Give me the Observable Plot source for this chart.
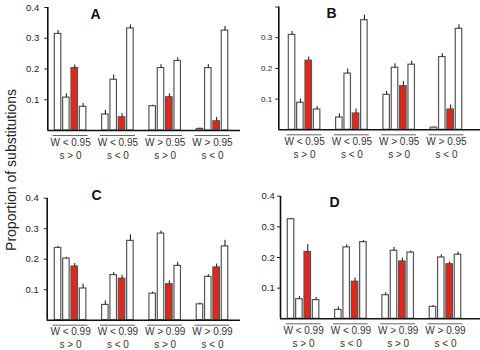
<!DOCTYPE html>
<html><head><meta charset="utf-8">
<script src="https://cdn.jsdelivr.net/npm/d3@7"></script>
<script src="https://cdn.jsdelivr.net/npm/@observablehq/plot@0.6"></script>
<style>
body{margin:0;background:#fff;}
#wrap{position:relative;width:480px;height:350px;overflow:hidden;font-family:"Liberation Sans",Arial,sans-serif;}
.panel{position:absolute;}
#ytitle{position:absolute;left:11px;top:170px;transform:translate(-50%,-50%) rotate(-90deg);white-space:nowrap;font-size:14px;color:#222;}
</style></head>
<body><div id="wrap"><div id="ytitle">Proportion of substitutions</div></div>
<script>
// ---- data ----
const groups = [0, 1, 2, 3];
const bars = [0, 1, 2, 3];
const wLabels95 = ["W < 0.95", "W < 0.95", "W > 0.95", "W > 0.95"];
const wLabels99 = ["W < 0.99", "W < 0.99", "W > 0.99", "W > 0.99"];
const sLabels = ["s > 0", "s < 0", "s > 0", "s < 0"];
const yTicks = [0.1, 0.2, 0.3, 0.4];

const valuesA = [[0.314, 0.107, 0.203, 0.077], [0.052, 0.165, 0.043, 0.332], [0.079, 0.203, 0.108, 0.226], [0.005, 0.203, 0.030, 0.325]];
const errorsA = [[0.011, 0.012, 0.010, 0.011], [0.014, 0.016, 0.012, 0.011], [0.003, 0.011, 0.011, 0.010], [0.003, 0.011, 0.012, 0.013]];
const valuesB = [[0.309, 0.088, 0.225, 0.066], [0.040, 0.183, 0.053, 0.357], [0.114, 0.202, 0.142, 0.212], [0.007, 0.237, 0.066, 0.329]];
const errorsB = [[0.011, 0.012, 0.012, 0.010], [0.012, 0.015, 0.015, 0.016], [0.011, 0.013, 0.015, 0.011], [0.002, 0.011, 0.015, 0.013]];
const valuesC = [[0.237, 0.202, 0.176, 0.104], [0.050, 0.148, 0.136, 0.260], [0.087, 0.284, 0.118, 0.178], [0.052, 0.142, 0.173, 0.242]];
const errorsC = [[0.005, 0.004, 0.010, 0.014], [0.013, 0.008, 0.011, 0.020], [0.005, 0.008, 0.011, 0.012], [0.005, 0.007, 0.011, 0.020]];
const valuesD = [[0.325, 0.064, 0.218, 0.061], [0.029, 0.233, 0.121, 0.250], [0.077, 0.222, 0.187, 0.216], [0.039, 0.200, 0.178, 0.209]];
const errorsD = [[0.002, 0.009, 0.024, 0.009], [0.010, 0.009, 0.012, 0.005], [0.008, 0.011, 0.011, 0.005], [0.004, 0.009, 0.007, 0.009]];

// ---- drawing ----
const RED = "#e3261b";
const GSTEP = 47.3;            // px per group
const BS = 8.35 / GSTEP;       // bar step (group units)
const BW = 6.5 / GSTEP;        // bar width (group units)
const W = 240, H = 175;

function panel(opts) {
  const {letter, values, errors, wLabels, left, top, mLeft, mTop, mBottom, xStart, tickFs, tickPad, hideTop, letterX, letterY} = opts;
  const rows = [];
  groups.forEach(g => bars.forEach(b => rows.push({g, b, v: values[g][b], e: errors[g][b]})));
  const lo = -(xStart - mLeft) / GSTEP, hi = (W - xStart) / GSTEP;
  const mid = g => g + (3 * BS + BW) / 2;
  const svg = Plot.plot({
    width: W, height: H,
    marginLeft: mLeft, marginRight: 0, marginTop: mTop, marginBottom: mBottom,
    style: {fontFamily: "Liberation Sans, Arial, sans-serif", background: "transparent", overflow: "visible"},
    x: {domain: [lo, hi], axis: null},
    y: {domain: [0, 0.4], axis: null},
    marks: [
      Plot.rectY(rows, {x1: d => d.g + d.b * BS, x2: d => d.g + d.b * BS + BW, y: "v",
        fill: d => d.b === 2 ? RED : "white", stroke: "#555", strokeWidth: 1.2}),
      Plot.ruleX(rows, {x: d => d.g + d.b * BS + BW / 2, y1: d => d.v, y2: d => d.v + d.e, stroke: "#111", strokeWidth: 1}),
      Plot.ruleX([lo], {stroke: "#111", strokeWidth: 1.6}),
      Plot.ruleY([0], {stroke: "#111", strokeWidth: 1.6}),
      Plot.axisY({ticks: yTicks, tickSize: 3, tickPadding: tickPad, fontSize: tickFs, color: "#222", label: null,
        tickFormat: d => (hideTop && d === 0.4) ? "" : d3.format(".1f")(d)}),
      // overline above the W label
      Plot.ruleY(groups, {y: () => 0, x1: g => mid(g) - 17.5 / GSTEP, x2: g => mid(g) + 17.5 / GSTEP, dy: 5,
        stroke: "#666", strokeWidth: 1}),
      Plot.text(groups, {x: mid, frameAnchor: "bottom", lineAnchor: "middle", dy: 12,
        text: g => wLabels[g], fontSize: 10, fill: "#333"}),
      Plot.text(groups, {x: mid, frameAnchor: "bottom", lineAnchor: "middle", dy: 25,
        text: g => sLabels[g], fontSize: 10, fill: "#333", ariaLabel: "slabel"}),
      Plot.text([letter], {frameAnchor: "top-left", dx: letterX, dy: letterY, textAnchor: "middle", lineAnchor: "middle",
        fontSize: 14, fontWeight: "bold", fill: "#111"})
    ]
  });
  d3.select(svg).selectAll('g[aria-label="slabel"] text').each(function () {
    const t = this.textContent; const s = d3.select(this); s.text(null);
    s.append("tspan").attr("font-style", "italic").text(t[0]);
    s.append("tspan").text(t.slice(1));
  });
  svg.classList.add("panel");
  svg.style.left = left + "px"; svg.style.top = top + "px";
  document.getElementById("wrap").appendChild(svg);
}

panel({letter: "A", values: valuesA, errors: errorsA, wLabels: wLabels95, left: 0, top: 0,
  mLeft: 47.3, mTop: 7, mBottom: 45, xStart: 54.3, tickFs: 9.5, tickPad: 5.5, hideTop: false, letterX: 47.7, letterY: 7});
panel({letter: "B", values: valuesB, errors: errorsB, wLabels: wLabels95, left: 240, top: 0,
  mLeft: 38.3, mTop: 6.5, mBottom: 45.7, xStart: 48.3, tickFs: 8, tickPad: 3.6, hideTop: true, letterX: 52.7, letterY: 6.5});
panel({letter: "C", values: valuesC, errors: errorsC, wLabels: wLabels99, left: 0, top: 175,
  mLeft: 46.7, mTop: 22.7, mBottom: 30.3, xStart: 54.3, tickFs: 9.5, tickPad: 5.4, hideTop: false, letterX: 49.3, letterY: -2.7});
panel({letter: "D", values: valuesD, errors: errorsD, wLabels: wLabels99, left: 240, top: 175,
  mLeft: 40, mTop: 20.7, mBottom: 31.7, xStart: 47.3, tickFs: 9.5, tickPad: 2.7, hideTop: false, letterX: 54, letterY: 6.3});
</script>
</body></html>
